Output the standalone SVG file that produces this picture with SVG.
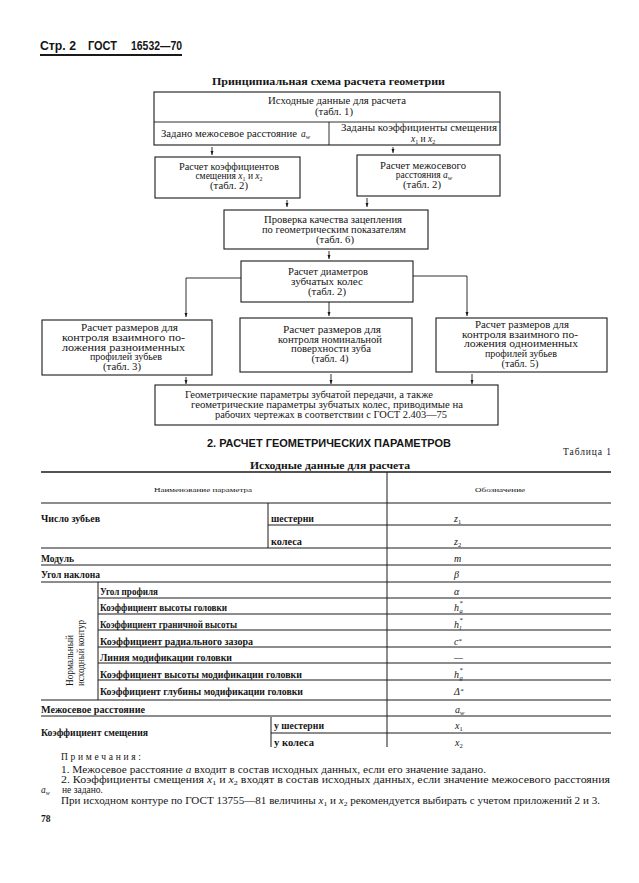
<svg xmlns="http://www.w3.org/2000/svg" width="639" height="883" viewBox="0 0 639 883">
<style>
.box{fill:none;stroke:#1a1a1a;stroke-width:1.1}
.ln{fill:none;stroke:#1a1a1a;stroke-width:0.9}
.rl{stroke:#1a1a1a;stroke-width:1}
.t{font-family:"Liberation Serif","DejaVu Serif",serif;font-size:9.5px;fill:#151515}
.c{text-anchor:middle}
.lb{font-family:"Liberation Serif","DejaVu Serif",serif;font-size:10px;font-weight:bold;fill:#151515}
.sm{font-family:"Liberation Serif","DejaVu Serif",serif;font-size:7px;fill:#151515}
.sym{font-family:"Liberation Serif","DejaVu Serif",serif;font-size:10px;font-style:italic;fill:#151515}
.hd{font-family:"Liberation Sans","DejaVu Sans",sans-serif;font-weight:bold;fill:#151515}
.nt{font-family:"Liberation Serif","DejaVu Serif",serif;font-size:9.5px;fill:#151515}
.i{font-style:italic}
</style>
<defs>
<marker id="ah" viewBox="0 0 8 6" refX="8" refY="3" markerWidth="4.5" markerHeight="3.4" markerUnits="userSpaceOnUse" orient="auto">
<path d="M0,0 L8,3 L0,6 z" fill="#1a1a1a"/>
</marker>
</defs>
<rect width="639" height="883" fill="#fff"/>

<g id="page-header">
<text class="hd" x="40" y="50" font-size="13" font-weight="normal" textLength="36" lengthAdjust="spacingAndGlyphs">Стр. 2</text>
<text class="hd" x="88" y="50" font-size="13" textLength="29" lengthAdjust="spacingAndGlyphs">ГОСТ</text>
<text class="hd" x="131" y="50" font-size="13" textLength="51" lengthAdjust="spacingAndGlyphs">16532—70</text>
<line x1="40" y1="55" x2="182" y2="55" stroke="#1a1a1a" stroke-width="2"/>
</g>

<text id="title" class="t" x="212" y="85" font-size="12.5" font-weight="bold" textLength="233" lengthAdjust="spacingAndGlyphs">Принципиальная схема расчета геометрии</text>

<g id="n-input">
<rect class="box" x="154" y="92" width="346" height="53"/>
<line class="ln" x1="154" y1="122" x2="500" y2="122"/>
<line class="ln" x1="329" y1="122" x2="329" y2="145"/>
<text class="t c" x="337" y="104" textLength="138" lengthAdjust="spacingAndGlyphs">Исходные данные для расчета</text>
<text class="t c" x="334" y="115" textLength="38" lengthAdjust="spacingAndGlyphs">(табл. 1)</text>
<text class="t" x="161" y="137" textLength="136" lengthAdjust="spacingAndGlyphs">Задано межосевое расстояние</text>
<text class="t" x="301" y="137"><tspan class="i">a</tspan><tspan font-size="6.5" dy="2" class="i">w</tspan></text>
<text class="t" x="341" y="131" textLength="156" lengthAdjust="spacingAndGlyphs">Заданы коэффициенты  смещения</text>
<text class="t" x="411" y="142"><tspan class="i">x</tspan><tspan font-size="6" dy="2">1</tspan><tspan dy="-2"> и </tspan><tspan class="i">x</tspan><tspan font-size="6" dy="2">2</tspan></text>
</g>

<g id="n-calc-x">
<rect class="box" x="155" y="157" width="145" height="41"/>
<text class="t c" x="229" y="170" textLength="100" lengthAdjust="spacingAndGlyphs">Расчет коэффициентов</text>
<text class="t c" x="229" y="179">смещения <tspan class="i">x</tspan><tspan font-size="6" dy="2">1</tspan><tspan dy="-2"> и </tspan><tspan class="i">x</tspan><tspan font-size="6" dy="2">2</tspan></text>
<text class="t c" x="229" y="189" textLength="38" lengthAdjust="spacingAndGlyphs">(табл. 2)</text>
</g>

<g id="n-calc-aw">
<rect class="box" x="357" y="155" width="143" height="41"/>
<text class="t c" x="423" y="169" textLength="86" lengthAdjust="spacingAndGlyphs">Расчет межосевого</text>
<text class="t c" x="424" y="178">расстояния <tspan class="i">a</tspan><tspan font-size="6.5" dy="2" class="i">w</tspan></text>
<text class="t c" x="422" y="188" textLength="38" lengthAdjust="spacingAndGlyphs">(табл. 2)</text>
</g>

<g id="n-check">
<rect class="box" x="224" y="210" width="204" height="39"/>
<text class="t c" x="333" y="223" textLength="138" lengthAdjust="spacingAndGlyphs">Проверка качества зацепления</text>
<text class="t c" x="334" y="233" textLength="144" lengthAdjust="spacingAndGlyphs">по геометрическим показателям</text>
<text class="t c" x="335" y="243" textLength="38" lengthAdjust="spacingAndGlyphs">(табл. 6)</text>
</g>

<g id="n-diam">
<rect class="box" x="241" y="261" width="172" height="41"/>
<text class="t c" x="328" y="275" textLength="80" lengthAdjust="spacingAndGlyphs">Расчет диаметров</text>
<text class="t c" x="327" y="285" textLength="72" lengthAdjust="spacingAndGlyphs">зубчатых колес</text>
<text class="t c" x="327" y="295" textLength="38" lengthAdjust="spacingAndGlyphs">(табл. 2)</text>
</g>

<g id="n-tab3">
<rect class="box" x="42" y="320" width="170" height="55"/>
<text class="t" x="81" y="331" textLength="97" lengthAdjust="spacingAndGlyphs">Расчет размеров для</text>
<text class="t" x="62" y="341" textLength="123" lengthAdjust="spacingAndGlyphs">контроля  взаимного  по-</text>
<text class="t" x="62" y="351" textLength="123" lengthAdjust="spacingAndGlyphs">ложения   разноименных</text>
<text class="t c" x="126" y="360" textLength="72" lengthAdjust="spacingAndGlyphs">профилей зубьев</text>
<text class="t c" x="122" y="370" textLength="38" lengthAdjust="spacingAndGlyphs">(табл. 3)</text>
</g>

<g id="n-tab4">
<rect class="box" x="240" y="318" width="172" height="54"/>
<text class="t c" x="332" y="333" textLength="98" lengthAdjust="spacingAndGlyphs">Расчет размеров для</text>
<text class="t c" x="330" y="343" textLength="104" lengthAdjust="spacingAndGlyphs">контроля номинальной</text>
<text class="t c" x="331" y="352" textLength="80" lengthAdjust="spacingAndGlyphs">поверхности зуба</text>
<text class="t c" x="330" y="362" textLength="37" lengthAdjust="spacingAndGlyphs">(табл. 4)</text>
</g>

<g id="n-tab5">
<rect class="box" x="436" y="318" width="171" height="54"/>
<text class="t c" x="522" y="328" textLength="94" lengthAdjust="spacingAndGlyphs">Расчет размеров для</text>
<text class="t c" x="520" y="338" textLength="116" lengthAdjust="spacingAndGlyphs">контроля  взаимного  по-</text>
<text class="t c" x="521" y="347" textLength="114" lengthAdjust="spacingAndGlyphs">ложения одноименных</text>
<text class="t c" x="521" y="357" textLength="72" lengthAdjust="spacingAndGlyphs">профилей зубьев</text>
<text class="t c" x="520" y="367" textLength="37" lengthAdjust="spacingAndGlyphs">(табл. 5)</text>
</g>

<g id="n-result">
<rect class="box" x="155" y="385" width="343" height="40"/>
<text class="t" x="185" y="398" textLength="248" lengthAdjust="spacingAndGlyphs">Геометрические параметры зубчатой передачи, а также</text>
<text class="t" x="191" y="408" textLength="272" lengthAdjust="spacingAndGlyphs">геометрические  параметры  зубчатых  колес,  приводимые     на</text>
<text class="t" x="215" y="418" textLength="232" lengthAdjust="spacingAndGlyphs">рабочих чертежах в соответствии с ГОСТ 2.403—75</text>
</g>

<g id="connectors" class="ln">
<line x1="212" y1="147" x2="212" y2="155" marker-end="url(#ah)"/>
<line x1="393" y1="147" x2="393" y2="153" marker-end="url(#ah)"/>
<line x1="287" y1="200" x2="287" y2="207" marker-end="url(#ah)"/>
<line x1="367" y1="198" x2="367" y2="207" marker-end="url(#ah)"/>
<line x1="329" y1="251" x2="329" y2="259" marker-end="url(#ah)"/>
<polyline points="241,278 186,278 186,317" marker-end="url(#ah)"/>
<polyline points="413,276 467,276 467,316" marker-end="url(#ah)"/>
<line x1="329" y1="302" x2="329" y2="316" marker-end="url(#ah)"/>
<line x1="186" y1="377" x2="186" y2="384" marker-end="url(#ah)"/>
<line x1="331" y1="374" x2="331" y2="384" marker-end="url(#ah)"/>
<line x1="472" y1="374" x2="472" y2="384" marker-end="url(#ah)"/>
</g>

<text id="section" class="hd" x="207" y="447" font-size="11" textLength="244" lengthAdjust="spacingAndGlyphs">2. РАСЧЕТ ГЕОМЕТРИЧЕСКИХ ПАРАМЕТРОВ</text>
<text id="table-no" class="t" x="563" y="455" font-size="9" textLength="48" lengthAdjust="spacing">Таблица 1</text>
<text id="table-title" class="t" x="250" y="469" font-size="11.5" font-weight="bold" textLength="160" lengthAdjust="spacingAndGlyphs">Исходные данные для расчета</text>

<g id="table">
<line x1="41" y1="472" x2="611" y2="472" stroke="#1a1a1a" stroke-width="1.6"/>
<g class="rl">
<line x1="387" y1="472" x2="387" y2="747"/>
<line x1="41" y1="503" x2="611" y2="503"/>
<line x1="268" y1="503" x2="268" y2="548"/>
<line x1="268" y1="525" x2="611" y2="525"/>
<line x1="41" y1="548" x2="611" y2="548"/>
<line x1="41" y1="565" x2="611" y2="565"/>
<line x1="41" y1="582" x2="611" y2="582"/>
<line x1="98" y1="582" x2="98" y2="700"/>
<line x1="98" y1="598" x2="611" y2="598"/>
<line x1="98" y1="614" x2="611" y2="614"/>
<line x1="98" y1="630" x2="611" y2="630"/>
<line x1="98" y1="647" x2="611" y2="647"/>
<line x1="98" y1="663" x2="611" y2="663"/>
<line x1="98" y1="680" x2="611" y2="680"/>
<line x1="41" y1="700" x2="611" y2="700"/>
<line x1="41" y1="716" x2="611" y2="716"/>
<line x1="271" y1="717" x2="271" y2="747"/>
<line x1="271" y1="733" x2="611" y2="733"/>
</g>
<text class="sm" x="154" y="492" textLength="98" lengthAdjust="spacingAndGlyphs">Наименование параметра</text>
<text class="sm" x="475" y="492" textLength="50" lengthAdjust="spacingAndGlyphs">Обозначение</text>

<text class="lb" x="41" y="522" textLength="59" lengthAdjust="spacingAndGlyphs">Число зубьев</text>
<text class="lb" x="271" y="522" textLength="43" lengthAdjust="spacingAndGlyphs">шестерни</text>
<text class="lb" x="271" y="545" textLength="31" lengthAdjust="spacingAndGlyphs">колеса</text>
<text class="lb" x="41" y="562" textLength="33" lengthAdjust="spacingAndGlyphs">Модуль</text>
<text class="lb" x="41" y="578" textLength="59" lengthAdjust="spacingAndGlyphs">Угол наклона</text>
<text class="lb" x="100" y="595" textLength="58" lengthAdjust="spacingAndGlyphs">Угол профиля</text>
<text class="lb" x="100" y="611" textLength="127" lengthAdjust="spacingAndGlyphs">Коэффициент высоты головки</text>
<text class="lb" x="100" y="628" textLength="137" lengthAdjust="spacingAndGlyphs">Коэффициент граничной высоты</text>
<text class="lb" x="100" y="645" textLength="153" lengthAdjust="spacingAndGlyphs">Коэффициент радиального зазора</text>
<text class="lb" x="100" y="661" textLength="132" lengthAdjust="spacingAndGlyphs">Линия модификации головки</text>
<text class="lb" x="100" y="678" textLength="202" lengthAdjust="spacingAndGlyphs">Коэффициент высоты модификации головки</text>
<text class="lb" x="100" y="695" textLength="203" lengthAdjust="spacingAndGlyphs">Коэффициент глубины модификации головки</text>
<text class="lb" x="41" y="713" textLength="104" lengthAdjust="spacingAndGlyphs">Межосевое расстояние</text>
<text class="lb" x="41" y="736" textLength="107" lengthAdjust="spacingAndGlyphs">Коэффициент смещения</text>
<text class="lb" x="274" y="729" textLength="50" lengthAdjust="spacingAndGlyphs">у шестерни</text>
<text class="lb" x="274" y="746" textLength="40" lengthAdjust="spacingAndGlyphs">у колеса</text>

<text class="t" transform="translate(73,686) rotate(-90)" font-size="9.5" textLength="51" lengthAdjust="spacingAndGlyphs">Нормальный</text>
<text class="t" transform="translate(84,686) rotate(-90)" font-size="9.5" textLength="66" lengthAdjust="spacingAndGlyphs">исходный контур</text>

<text class="sym" x="454" y="522">z<tspan font-size="6.5" font-style="normal" dy="2">1</tspan></text>
<text class="sym" x="454" y="545">z<tspan font-size="6.5" font-style="normal" dy="2">2</tspan></text>
<text class="sym" x="454" y="562">m</text>
<text class="sym" x="454" y="578" font-style="normal">β</text>
<text class="sym" x="454" y="595">α</text>
<text class="sym" x="454" y="611">h<tspan x="459.5" dy="-6" font-size="7" font-style="normal">*</tspan><tspan x="459.5" dy="8" font-size="6.5">a</tspan></text>
<text class="sym" x="454" y="628">h<tspan x="459.5" dy="-6" font-size="7" font-style="normal">*</tspan><tspan x="459.5" dy="8" font-size="6.5">l</tspan></text>
<text class="sym" x="454" y="645">c<tspan font-size="7" font-style="normal" dy="-2">*</tspan></text>
<text class="sym" x="454" y="661" font-style="normal">—</text>
<text class="sym" x="454" y="678">h<tspan x="459.5" dy="-6" font-size="7" font-style="normal">*</tspan><tspan x="459.5" dy="8" font-size="6.5">g</tspan></text>
<text class="sym" x="454" y="695" font-style="normal">Δ<tspan font-size="7" dy="-2">*</tspan></text>
<text class="sym" x="455" y="713">a<tspan font-size="6.5" dy="2">w</tspan></text>
<text class="sym" x="455" y="729">x<tspan font-size="6.5" font-style="normal" dy="2">1</tspan></text>
<text class="sym" x="455" y="746">x<tspan font-size="6.5" font-style="normal" dy="2">2</tspan></text>
</g>

<g id="notes">
<text class="nt" x="61" y="760" textLength="80" lengthAdjust="spacing">Примечания:</text>
<text class="nt" x="61" y="773" textLength="425" lengthAdjust="spacingAndGlyphs">1. Межосевое расстояние <tspan class="i">a</tspan> входит в состав  исходных данных, если его значение задано.</text>
<text class="nt" x="61" y="783" textLength="549" lengthAdjust="spacingAndGlyphs">2. Коэффициенты  смещения  <tspan class="i">x</tspan><tspan font-size="6.5" dy="2">1</tspan><tspan dy="-2"> и </tspan><tspan class="i">x</tspan><tspan font-size="6.5" dy="2">2</tspan><tspan dy="-2"> входят  в  состав исходных данных, если значение  межосевого  расстояния</tspan></text>
<text class="nt" x="41" y="793" font-size="8.5"><tspan class="i">a</tspan><tspan font-size="6" dy="1.5" class="i">w</tspan><tspan x="62" dy="-1.5">не задано.</tspan></text>
<text class="nt" x="61" y="804" textLength="539" lengthAdjust="spacingAndGlyphs">При исходном контуре по ГОСТ 13755—81 величины <tspan class="i">x</tspan><tspan font-size="6.5" dy="2">1</tspan><tspan dy="-2"> и </tspan><tspan class="i">x</tspan><tspan font-size="6.5" dy="2">2</tspan><tspan dy="-2"> рекомендуется выбирать с учетом приложений 2 и 3.</tspan></text>
<text class="nt" x="41" y="822" font-weight="bold" font-size="10">78</text>
</g>
</svg>
